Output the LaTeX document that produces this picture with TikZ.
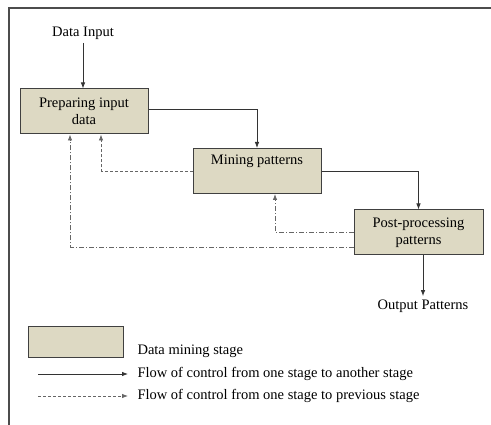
\documentclass[tikz,border=0pt]{standalone}
\usepackage{fontspec}
\setmainfont{Liberation Serif}
\usetikzlibrary{positioning}
\usetikzlibrary{arrows.meta}
\usetikzlibrary{calc}
\definecolor{stagefill}{HTML}{DDD9C3}
\definecolor{stageline}{HTML}{404040}

\begin{document}
\begin{tikzpicture}[x=1pt,y=-1pt,>={Latex[length=6pt,width=4.5pt]},
    stage/.style={draw=stageline, line width=1pt, fill=stagefill, minimum width=128pt, minimum height=45pt, align=center, inner sep=2pt},
    fwd/.style={draw=black!80, line width=0.8pt},
    back/.style={draw=black!60, line width=0.8pt, dash pattern=on 3pt off 2pt},
    backdot/.style={draw=black!60, line width=0.8pt, dash pattern=on 5pt off 2pt on 1pt off 2pt}]
    \useasboundingbox (0,0) rectangle (491,425);
    % Page frame:
    \draw [black!70, line width=1.2pt] (9,425) -- (9,8) -- (491,8);

    \begin{scope}[font=\fontsize{14.5}{17}\selectfont]
    % Stages:
    \node (din) at (83,33) {Data Input};
    \node [stage] (prep) at (84,111.5) {Preparing input\\data};
    \node [stage] (mine) at (257,171) {Mining patterns\\\strut};
    \node [stage, minimum width=129pt] (post) at (418.5,232.5) {Post-processing\\patterns};
    \node (dout) at (423,306) {Output Patterns};

    % Flow to the next stage:
    \draw [fwd,->] (din.south) -- (din.south |- prep.north);
    \draw [fwd,->] ([yshift=2.5pt]prep.east) -| (mine.north);
    \draw [fwd,->] (mine.east) -| (post.north);
    \draw [fwd,->] ([xshift=4.5pt]post.south) -- ([xshift=4.5pt]post.south |- dout.north);

    % Flow back to a previous stage:
    \draw [back,->] (mine.west) -| ([xshift=17pt]prep.south);
    \draw [backdot,->] (post.west) -| ([xshift=18pt]mine.south);
    \draw [backdot,->] ([yshift=-14.5pt]post.west) -| ([xshift=-14pt]prep.south);

    % Legend:
    \node [stage, minimum width=95pt, minimum height=31pt] (legstage) at (75.5,342.5) {};
    \node [anchor=west] (legstagetxt) at (134,351) {Data mining stage};
    \node [anchor=west] (legfwd) at (134,374) {Flow of control from one stage to another stage};
    \node [anchor=west] (legback) at (134,396) {Flow of control from one stage to previous stage};
    \coordinate (fwdstart) at (38,374);
    \coordinate (backstart) at (38,396);
    \draw [fwd,->] (fwdstart) -- ([xshift=-6pt]legfwd.west);
    \draw [back,->] (backstart) -- ([xshift=-6pt]legback.west);
    \end{scope}
\end{tikzpicture}
\end{document}
